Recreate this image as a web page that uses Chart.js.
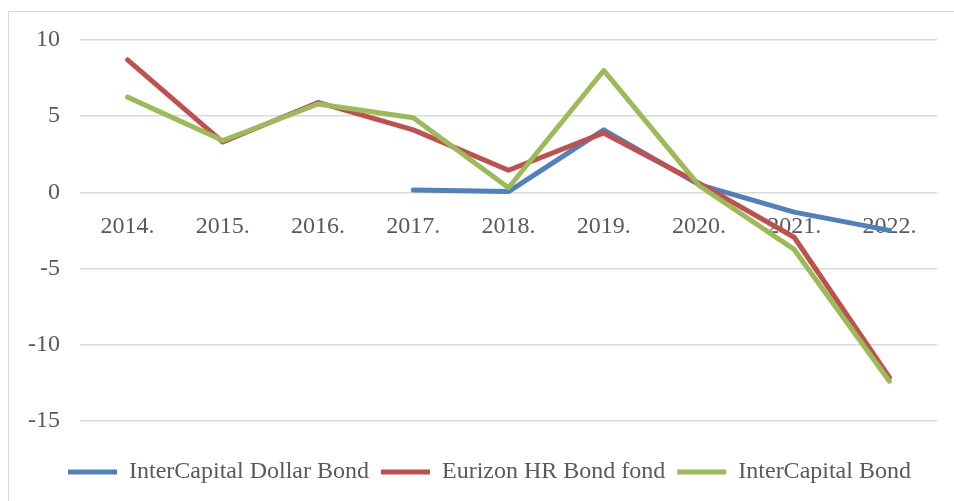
<!DOCTYPE html>
<html>
<head>
<meta charset="utf-8">
<script src="https://cdn.jsdelivr.net/npm/chart.js@4/dist/chart.umd.min.js"></script>
<style>
    html, body { margin: 0; padding: 0; background: #fff; overflow: hidden; }
    #wrap { position: relative; width: 954px; height: 501px; }
    #frame { position: absolute; left: 8px; top: 11px; width: 980px; height: 520px; border: 1px solid #d9d9d9; box-sizing: border-box; }
    #chart { position: absolute; left: 0; top: 0; }
</style>
</head>
<body>
<div id="wrap">
    <div id="frame"></div>
    <canvas id="chart" width="954" height="501"></canvas>
</div>
<script>
const years = ['2014.', '2015.', '2016.', '2017.', '2018.', '2019.', '2020.', '2021.', '2022.'];
const dollarBond = [null, null, null, 0.15, 0.05, 4.1, 0.5, -1.3, -2.5];
const eurizonBond = [8.7, 3.3, 5.9, 4.1, 1.45, 3.9, 0.6, -2.95, -12.15];
const interCapitalBond = [6.25, 3.4, 5.8, 4.9, 0.3, 8.0, 0.45, -3.75, -12.4];
const yTicks = [10, 5, 0, -5, -10, -15];

const textColor = '#595959';
const font = { family: "'Liberation Serif', 'Times New Roman', serif", size: 24 };

function line(label, data, color, order) {
    return {
        label: label,
        data: data,
        borderColor: color,
        backgroundColor: color,
        borderWidth: 5,
        borderCapStyle: 'round',
        borderJoinStyle: 'round',
        pointRadius: 0,
        pointHoverRadius: 0,
        tension: 0,
        order: order
    };
}

// legend sits a few px right of the canvas centre in the original
const legendNudge = {
    id: 'legendNudge',
    afterLayout(chart) {
        chart.legend.left += 7;
        chart.legend.right += 7;
    }
};

const ctx = document.getElementById('chart').getContext('2d');
new Chart(ctx, {
    type: 'line',
    data: {
        labels: years,
        datasets: [
            line('InterCapital Dollar Bond', dollarBond, '#4f81bd', 3),
            line('Eurizon HR Bond fond', eurizonBond, '#c0504d', 2),
            line('InterCapital Bond', interCapitalBond, '#9bbb59', 1)
        ]
    },
    plugins: [legendNudge],
    options: {
        responsive: false,
        animation: false,
        layout: { padding: { left: 28, right: 17, top: 40, bottom: 7 } },
        plugins: {
            tooltip: { enabled: false },
            legend: {
                position: 'bottom',
                title: { display: true, text: '', font: { size: 1 }, padding: { top: 0, bottom: 26 } },
                labels: {
                    color: textColor,
                    font: font,
                    usePointStyle: true,
                    pointStyle: 'line',
                    pointStyleWidth: 49,
                    boxHeight: 24,
                    padding: 12,
                    sort: (a, b) => a.datasetIndex - b.datasetIndex
                }
            }
        },
        scales: {
            x: {
                position: { y: 0 },
                offset: true,
                grid: { display: false, drawTicks: true, tickLength: 20, offset: true },
                border: { display: false },
                ticks: { color: textColor, font: font, padding: 0, maxRotation: 0, autoSkip: false }
            },
            y: {
                min: -15,
                max: 10,
                grid: { color: '#d9d9d9', lineWidth: 1.5, drawTicks: true, tickLength: 20, tickColor: 'rgba(0,0,0,0)' },
                border: { display: false },
                afterBuildTicks: axis => { axis.ticks = yTicks.map(v => ({ value: v })); },
                ticks: { color: textColor, font: font, padding: 0 }
            }
        }
    }
});
</script>
</body>
</html>
